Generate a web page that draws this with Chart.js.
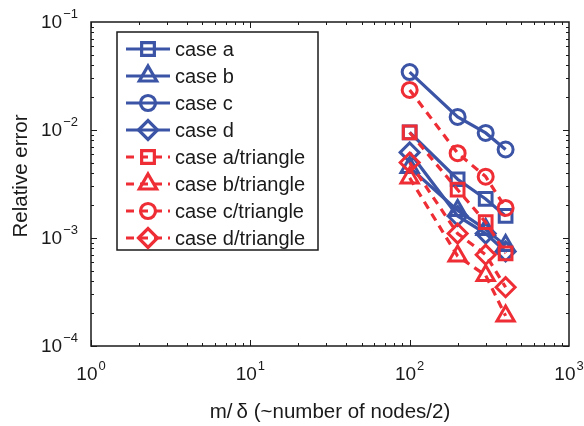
<!DOCTYPE html>
<html>
<head>
<meta charset="utf-8">
<script src="https://cdn.jsdelivr.net/npm/chart.js@4.4.1/dist/chart.umd.min.js"></script>
<style>
  html, body { margin: 0; padding: 0; background: #fff; }
</style>
</head>
<body>
<canvas id="errChart" width="584" height="426"></canvas>
<script>
// x positions (m/delta)
const nodes = [100, 200, 300, 400];

// quad results
const caseA = [0.0095, 0.0035, 0.0023, 0.0016];
const caseB = [0.0045, 0.0018, 0.0012, 0.00085];
const caseC = [0.0344, 0.0132, 0.0094, 0.0066];
const caseD = [0.0062, 0.0016, 0.0011, 0.00075];

// triangle results
const caseATri = [0.0095, 0.0028, 0.0014, 0.00072];
const caseBTri = [0.0036, 0.00068, 0.00045, 0.00019];
const caseCTri = [0.0235, 0.0061, 0.0037, 0.0019];
const caseDTri = [0.0050, 0.0011, 0.0007, 0.00035];

const xTicks = [1, 10, 100, 1000];
const yTicks = [0.0001, 0.001, 0.01, 0.1];

const BLUE = '#3b54a5';
const RED = '#ee2d35';
const FONT = "'Liberation Sans', Arial, sans-serif";

const seriesDefs = [
  { label: 'case a', data: caseA, color: BLUE, style: 'rect', dash: [] },
  { label: 'case b', data: caseB, color: BLUE, style: 'triangle', dash: [] },
  { label: 'case c', data: caseC, color: BLUE, style: 'circle', dash: [] },
  { label: 'case d', data: caseD, color: BLUE, style: 'rectRot', dash: [] },
  { label: 'case a/triangle', data: caseATri, color: RED, style: 'rect', dash: [8, 6] },
  { label: 'case b/triangle', data: caseBTri, color: RED, style: 'triangle', dash: [8, 6] },
  { label: 'case c/triangle', data: caseCTri, color: RED, style: 'circle', dash: [8, 6] },
  { label: 'case d/triangle', data: caseDTri, color: RED, style: 'rectRot', dash: [8, 6] }
];

function markerRadius(style) {
  if (style === 'rect') return 9;
  if (style === 'circle') return 7.5;
  if (style === 'triangle') return 10;
  return 9.5;
}

const datasets = seriesDefs.map((s, i) => ({
  label: s.label,
  data: nodes.map((x, j) => ({ x: x, y: s.data[j] })),
  borderColor: s.color,
  borderWidth: 3.2,
  borderDash: s.dash,
  pointStyle: s.style,
  pointRadius: markerRadius(s.style),
  pointBorderWidth: 3,
  pointBorderColor: s.color,
  pointBackgroundColor: 'rgba(0,0,0,0)',
  fill: false,
  tension: 0,
  order: -i
}));

// draws "10" with a raised exponent
function drawPow(ctx, exp, x, y, align) {
  const base = '10';
  const sup = exp < 0 ? '\u2212' + Math.abs(exp) : String(exp);
  ctx.font = '19px ' + FONT;
  const bw = ctx.measureText(base).width;
  ctx.font = '13px ' + FONT;
  const sw = ctx.measureText(sup).width;
  let left;
  if (align === 'right') left = x - bw - sw - 1;
  else left = x - (bw + sw + 1) / 2;
  ctx.textAlign = 'left';
  ctx.textBaseline = 'middle';
  ctx.fillStyle = '#1a1a1a';
  ctx.font = '19px ' + FONT;
  ctx.fillText(base, left, y);
  ctx.font = '13px ' + FONT;
  ctx.fillText(sup, left + bw + 1, y - 9);
}

const matlabAxes = {
  id: 'matlabAxes',
  afterDraw(chart) {
    const ctx = chart.ctx;
    const a = chart.chartArea;
    const xs = chart.scales.x;
    const ys = chart.scales.y;
    ctx.save();
    ctx.strokeStyle = '#1a1a1a';
    ctx.lineWidth = 1;

    // minor + major ticks on x
    for (let d = 0; d < 3; d++) {
      for (let m = 1; m <= 9; m++) {
        const v = m * Math.pow(10, d);
        const px = Math.round(xs.getPixelForValue(v)) + 0.5;
        const len = m === 1 ? 6 : 3;
        ctx.beginPath();
        ctx.moveTo(px, a.bottom); ctx.lineTo(px, a.bottom - len);
        ctx.moveTo(px, a.top); ctx.lineTo(px, a.top + len);
        ctx.stroke();
      }
    }
    // minor + major ticks on y
    for (let d = -4; d < -1; d++) {
      for (let m = 1; m <= 9; m++) {
        const v = m * Math.pow(10, d);
        const py = Math.round(ys.getPixelForValue(v)) + 0.5;
        const len = m === 1 ? 6 : 3;
        ctx.beginPath();
        ctx.moveTo(a.left, py); ctx.lineTo(a.left + len, py);
        ctx.moveTo(a.right, py); ctx.lineTo(a.right - len, py);
        ctx.stroke();
      }
    }

    // frame
    ctx.lineWidth = 1.5;
    ctx.strokeRect(a.left, a.top, a.right - a.left, a.bottom - a.top);

    // tick labels
    xTicks.forEach(v => {
      drawPow(ctx, Math.round(Math.log10(v)), xs.getPixelForValue(v), a.bottom + 29, 'center');
    });
    yTicks.forEach(v => {
      drawPow(ctx, Math.round(Math.log10(v)), a.left - 13, ys.getPixelForValue(v) + 1, 'right');
    });

    // axis titles
    ctx.fillStyle = '#1a1a1a';
    ctx.font = '20.5px ' + FONT;
    ctx.textAlign = 'center';
    ctx.textBaseline = 'middle';
    ctx.fillText('m/\u2009\u03b4 (~number of nodes/2)', 330, 412);
    ctx.save();
    ctx.translate(21, 176);
    ctx.rotate(-Math.PI / 2);
    ctx.fillText('Relative error', 0, 0);
    ctx.restore();

    // legend box
    const lx = 117, ly = 32, lw = 201, lh = 218;
    ctx.fillStyle = '#fff';
    ctx.fillRect(lx, ly, lw, lh);
    ctx.lineWidth = 1.5;
    ctx.strokeStyle = '#1a1a1a';
    ctx.strokeRect(lx, ly, lw, lh);
    seriesDefs.forEach((s, i) => {
      const y = 49 + i * 27;
      ctx.save();
      ctx.strokeStyle = s.color;
      ctx.lineWidth = 3.2;
      ctx.setLineDash(s.dash);
      ctx.beginPath();
      ctx.moveTo(126, y); ctx.lineTo(170, y);
      ctx.stroke();
      ctx.setLineDash([]);
      ctx.fillStyle = 'rgba(0,0,0,0)';
      Chart.helpers.drawPoint(ctx, { pointStyle: s.style, radius: markerRadius(s.style), rotation: 0, borderWidth: 3 }, 148, y);
      ctx.restore();
      ctx.fillStyle = '#1a1a1a';
      ctx.font = '20px ' + FONT;
      ctx.textAlign = 'left';
      ctx.textBaseline = 'middle';
      ctx.fillText(s.label, 175, y + 1);
    });
    ctx.restore();
  }
};

new Chart(document.getElementById('errChart').getContext('2d'), {
  type: 'line',
  data: { datasets: datasets },
  options: {
    responsive: false,
    animation: false,
    events: [],
    layout: { padding: { left: 91, right: 15, top: 22, bottom: 80 } },
    plugins: { legend: { display: false }, tooltip: { enabled: false } },
    scales: {
      x: {
        type: 'logarithmic', min: 1, max: 1000,
        grid: { display: false, drawTicks: false },
        border: { display: false },
        ticks: { display: false }
      },
      y: {
        type: 'logarithmic', min: 0.0001, max: 0.1,
        grid: { display: false, drawTicks: false },
        border: { display: false },
        ticks: { display: false }
      }
    }
  },
  plugins: [matlabAxes]
});
</script>
</body>
</html>
